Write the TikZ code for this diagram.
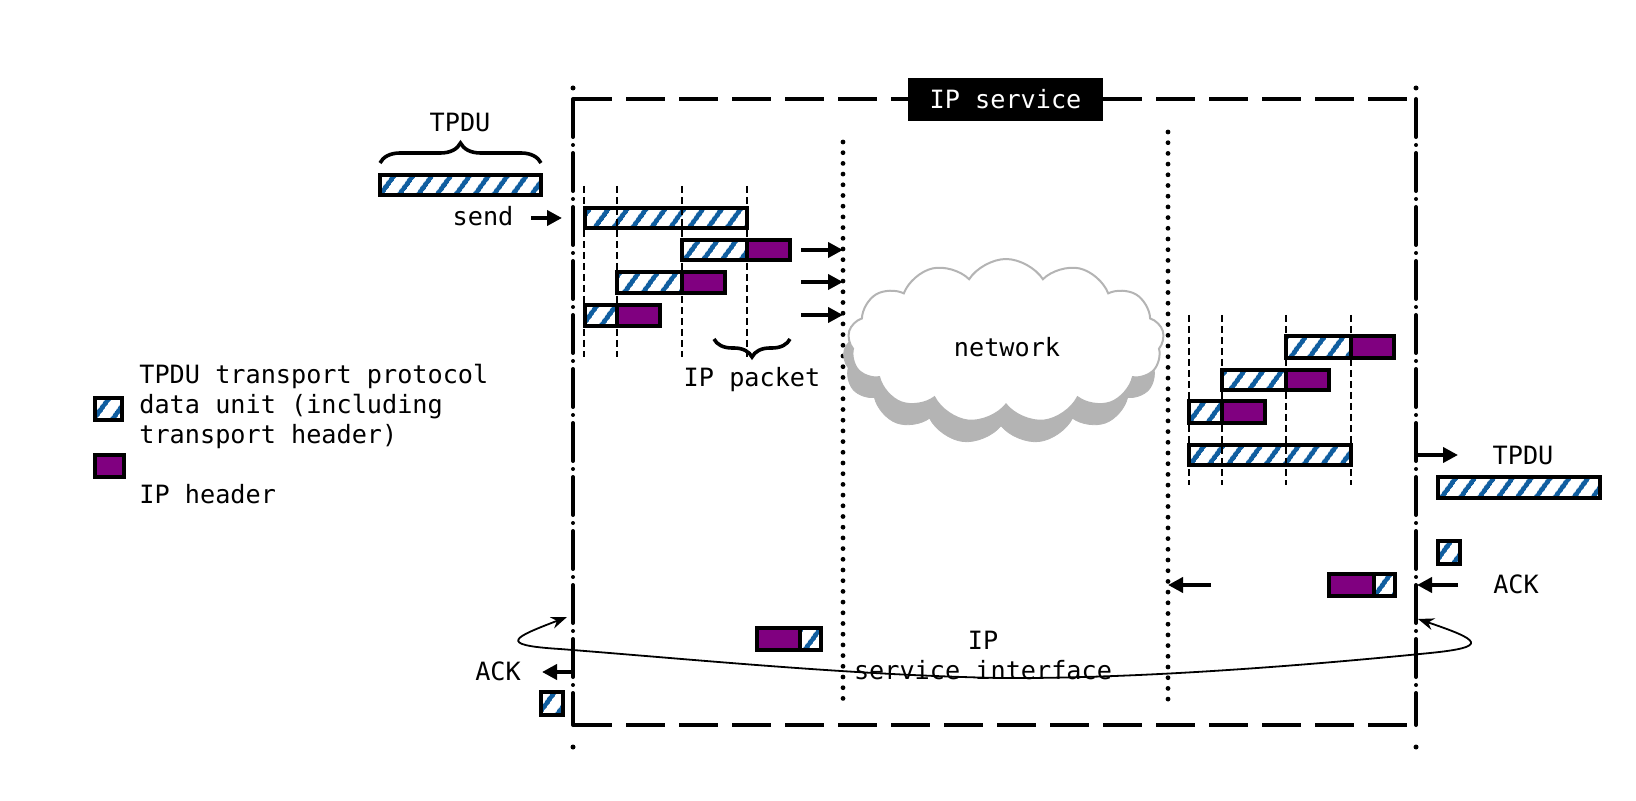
\documentclass[tikz,border=0pt]{standalone}
\usepackage{fontspec}
\setmonofont{DejaVu Sans Mono}
\usetikzlibrary{arrows.meta,patterns.meta,decorations.pathreplacing,shapes.symbols}
\definecolor{hblue}{RGB}{16,94,160}
\definecolor{hpurple}{RGB}{128,0,128}
\definecolor{cloudgray}{RGB}{180,180,180}
\newcommand\bx[6]{\node[#2, minimum width={(#5-#3)*0.5pt}, minimum height={(#6-#4)*0.5pt}] (#1) at ({(#3+#5)/2},{(#4+#6)/2}) {};}
\begin{document}
\begin{tikzpicture}[x=0.5pt,y=-0.5pt,
  txt/.style={font=\ttfamily\fontsize{12.6}{15}\selectfont, inner sep=0pt},
  hatchbox/.style={draw=black, line width=1.9pt, preaction={fill=white},
     pattern={Lines[angle=54,distance=7.4pt,line width=2.4pt]}, pattern color=hblue,
     inner sep=0pt, outer sep=0pt},
  hdrbox/.style={draw=black, line width=1.9pt, fill=hpurple, inner sep=0pt, outer sep=0pt},
  dashdot/.style={line width=2pt, line cap=round, dash pattern=on 19pt off 4pt on 0pt off 4pt},
  dotline/.style={line width=2.4pt, line cap=round, dash pattern=on 0pt off 5.35pt},
  boxdash/.style={line width=2pt, dash pattern=on 19.5pt off 7pt},
  guide/.style={line width=0.7pt, dash pattern=on 3.5pt off 2pt},
  bigarrow/.style={line width=2pt, -{Triangle[length=7.5pt,width=7.5pt]}},
  thinarrow/.style={line width=0.9pt, {Stealth[length=8pt,width=6pt]}-{Stealth[length=8pt,width=6pt]}},
  bracestyle/.style={line width=1.8pt, decorate, decoration={brace, amplitude=10pt}},
  dotmark/.style={fill=black, circle, inner sep=0pt, minimum size=2.5pt}
]
\useasboundingbox (0,0) rectangle (1636,801);

% ---- frame of IP service ----
\coordinate (LT) at (573,99);  \coordinate (LB) at (573,725);
\coordinate (RT) at (1416,99); \coordinate (RB) at (1416,725);
\draw[boxdash] (LT) -- (RT);
\draw[boxdash] (LB) -- (RB);
\draw[dashdot] (LT) -- (LB);
\draw[dashdot] (RT) -- (RB);
\node[dotmark] (ltd) at (573,88) {};
\node[dotmark] (lbd) at (573,747) {};
\node[dotmark] (rtd) at (1416,88) {};
\node[dotmark] (rbd) at (1416,747) {};
\node[txt, fill=black, text=white, minimum width=97.5pt, minimum height=21.5pt] (ipserv) at (1005.5,99.5) {IP service};

% ---- dotted interface lines ----
\coordinate (DLT) at (843,142); \coordinate (DLB) at (843,705);
\coordinate (DRT) at (1168,132); \coordinate (DRB) at (1168,708);
\draw[dotline] (DLT) -- (DLB);
\draw[dotline] (DRT) -- (DRB);

% ---- cloud ----
\node[cloud, cloud puffs=13, cloud puff arc=115, aspect=2.2, fill=cloudgray, draw=cloudgray,
      minimum width=158pt, minimum height=84pt] (cloudshadow) at (1001,360) {};
\node[cloud, cloud puffs=13, cloud puff arc=115, aspect=2.2, fill=white, draw=cloudgray, line width=1pt,
      minimum width=158pt, minimum height=82pt] (cloud) at (1006,341) {};
\node[txt] (net) at (1007,347) {network};

% ---- sender side ----
\node[txt] (tpdu1) at (460,122) {TPDU};
\bx{tp1}{hatchbox}{380}{175}{541}{195}
\path (tp1.north west) ++(0,-12) coordinate (br1a);
\path (tp1.north east) ++(0,-12) coordinate (br1b);
\draw[bracestyle] (br1a) -- (br1b);
\node[txt] (send) at (483,216) {send};
\coordinate (sendfrom) at (531,218); \coordinate (sendto) at (562,218);
\draw[bigarrow] (sendfrom) -- (sendto);

\bx{sa}{hatchbox}{585}{208}{747}{228}
\bx{sbh}{hatchbox}{682}{240}{747}{260}
\bx{sbp}{hdrbox}{747}{240}{790}{260}
\bx{sch}{hatchbox}{617}{272}{682}{293}
\bx{scp}{hdrbox}{682}{272}{725}{293}
\bx{sdh}{hatchbox}{585}{305}{617}{326}
\bx{sdp}{hdrbox}{617}{305}{660}{326}
\foreach \gx in {584,617,682,747} \draw[guide] (\gx,186) -- (\gx,357);

\foreach \ay/\nm in {250/a,282/b,315/c} {
  \coordinate (out\nm from) at (801,\ay); \coordinate (out\nm to) at (843,\ay);
  \draw[bigarrow] (out\nm from) -- (out\nm to);
}
\coordinate (pb1) at (790,339); \coordinate (pb2) at (714,339);
\draw[bracestyle, decoration={brace, amplitude=9pt}] (pb1) -- (pb2);
\node[txt] (ippacket) at (752,380) {IP packet};

% ---- legend ----
\bx{lg1}{hatchbox}{95}{398}{122}{420}
\bx{lg2}{hdrbox}{95}{455}{124}{477}
\node[txt, anchor=west, align=left] (lgt1) at (139,406) {TPDU transport protocol\\data unit (including\\transport header)};
\node[txt, anchor=west] (lgt2) at (139,494) {IP header};

% ---- receiver side ----
\bx{rah}{hatchbox}{1286}{336}{1351}{358}
\bx{rap}{hdrbox}{1351}{336}{1394}{358}
\bx{rbh}{hatchbox}{1222}{370}{1286}{390}
\bx{rbp}{hdrbox}{1286}{370}{1329}{390}
\bx{rch}{hatchbox}{1189}{401}{1222}{423}
\bx{rcp}{hdrbox}{1222}{401}{1265}{423}
\bx{rd}{hatchbox}{1189}{445}{1351}{465}
\foreach \gx in {1189,1222,1286,1351} \draw[guide] (\gx,315) -- (\gx,485);

\coordinate (delfrom) at (1416,455); \coordinate (delto) at (1458,455);
\draw[bigarrow] (delfrom) -- (delto);
\node[txt] (tpdu2) at (1523,455) {TPDU};
\bx{tp2}{hatchbox}{1438}{477}{1600}{498}

% ---- ACK path ----
\bx{ackr}{hatchbox}{1438}{541}{1460}{564}
\node[txt] (ackrt) at (1516,584) {ACK};
\coordinate (ackrfrom) at (1458,585); \coordinate (ackrto) at (1417,585);
\draw[bigarrow] (ackrfrom) -- (ackrto);
\bx{ackmp}{hdrbox}{1329}{574}{1374}{596}
\bx{ackmh}{hatchbox}{1374}{574}{1395}{596}
\coordinate (acknfrom) at (1211,585); \coordinate (acknto) at (1168,585);
\draw[bigarrow] (acknfrom) -- (acknto);

\bx{acklp}{hdrbox}{757}{628}{800}{650}
\bx{acklh}{hatchbox}{800}{628}{821}{650}
\coordinate (acklfrom) at (573,672); \coordinate (acklto) at (542,672);
\draw[bigarrow] (acklfrom) -- (acklto);
\node[txt] (acklt) at (498,671) {ACK};
\bx{ackl}{hatchbox}{541}{692}{563}{715}

% ---- IP service interface ----
\coordinate (ifl) at (567,617); \coordinate (ifr) at (1418,619);
\draw[thinarrow] (ifl) .. controls (515,637) and (495,645) .. (560,649)
   .. controls (700,660) and (850,675) .. (1000,678)
   .. controls (1150,679) and (1330,663) .. (1430,653)
   .. controls (1490,647) and (1480,640) .. (ifr);
\node[txt, align=center] (iflabel) at (983,655) {IP\\service interface};
\end{tikzpicture}
\end{document}
